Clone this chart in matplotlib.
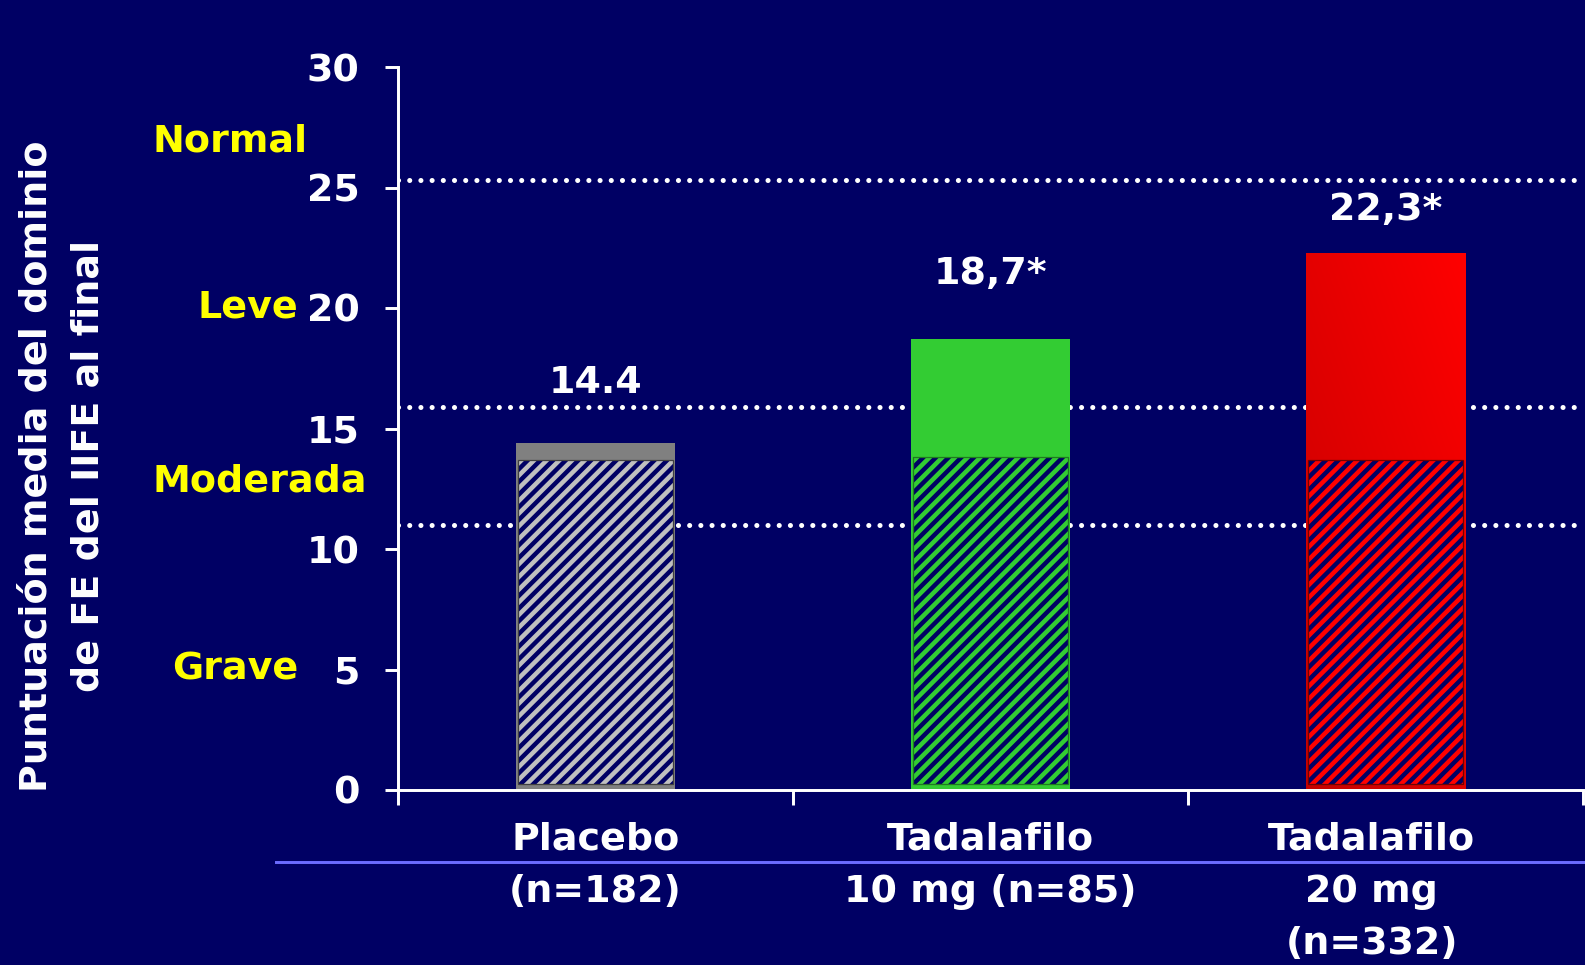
import matplotlib
matplotlib.use("Agg")
import matplotlib.pyplot as plt
import numpy as np
from matplotlib.colors import LinearSegmentedColormap
from matplotlib.lines import Line2D
from matplotlib.transforms import blended_transform_factory, offset_copy

# ---- data -------------------------------------------------------------
categories = ["Placebo\n(n=182)", "Tadalafilo\n10 mg (n=85)", "Tadalafilo\n20 mg\n(n=332)"]
scores = [14.4, 18.7, 22.3]            # mean IIEF-EF domain score at endpoint
baseline_scores = [13.7, 13.8, 13.7]   # hatched lower part of each bar
score_labels = ["14.4", "18,7*", "22,3*"]
severity_cutoffs = [25.3, 15.9, 11.0]
severity_names = ["Normal", "Leve", "Moderada", "Grave"]
severity_label_y = [26.9, 20.0, 12.8, 5.0]
y_ticks = [0, 5, 10, 15, 20, 25, 30]
y_title = ["Puntuación media del dominio", "de FE del IIFE al final"]

# ---- style ------------------------------------------------------------
W, H, DPI = 1585, 965, 152
BG = "#000064"
WHITE = "white"
YELLOW = "#FFFF00"
top_colors = ["#808080", "#33CC33", "#FF0000"]
hatch_fills = ["#C0C0C0", "#33CC33", "#FF0000"]
hatch_edges = ["#404040", "#1F7A1F", "#700000"]
label_offsets = [2.5, 2.7, 1.75]
FS = 18

plt.rcParams["font.family"] = ["DejaVu Sans"]
plt.rcParams["font.weight"] = "bold"
plt.rcParams["hatch.color"] = BG
plt.rcParams["hatch.linewidth"] = 2.1

fig = plt.figure(figsize=(W / DPI, H / DPI), dpi=DPI, facecolor=BG)
ax = fig.add_axes([398 / W, 1 - 790 / H, 1185 / W, 723 / H])
ax.set_facecolor(BG)

x = np.arange(len(categories))
bar_w = 0.405

# severity cut-off lines (dotted)
for c in severity_cutoffs:
    ax.axhline(c, color=WHITE, lw=2.4, linestyle=(0, (0.01, 2.2)),
               dash_capstyle="round", zorder=1)

# full bars
bars = ax.bar(x, scores, width=bar_w, color=top_colors, linewidth=0, zorder=2)

# red bar: diagonal shading from darker bottom-left to bright top-right
red = bars[2]
rx0, rw, rh = red.get_x(), red.get_width(), red.get_height()
u = np.linspace(0, 1, 200)
v = np.linspace(0, 1, 200)
U, V = np.meshgrid(u, v)
shade = (U * 0.45 + V * 0.55)
cmap = LinearSegmentedColormap.from_list("redshade", ["#C40000", "#FF0000"])
im = ax.imshow(shade, extent=(rx0, rx0 + rw, 0, rh), origin="lower",
               cmap=cmap, aspect="auto", zorder=2.5, interpolation="bilinear")
im.set_clip_path(red)

# hatched lower part
hb = 0.25
hatch_w = 0.39
ax.bar(x, [b - hb for b in baseline_scores], bottom=hb, width=hatch_w,
       color=hatch_fills, hatch="////", linewidth=0, zorder=3)
ax.bar(x, [b - hb for b in baseline_scores], bottom=hb, width=hatch_w,
       fill=False, edgecolor=hatch_edges, linewidth=0.6, zorder=4)

# value labels
for i, (s, lab, off) in enumerate(zip(scores, score_labels, label_offsets)):
    ax.text(i, s + off, lab, ha="center", va="center", color=WHITE,
            fontsize=FS, fontweight="bold", zorder=5)

# axes styling
ax.set_xlim(-0.5, 2.5)
ax.set_ylim(0, 30)
for side in ("top", "right"):
    ax.spines[side].set_visible(False)
for side in ("left", "bottom"):
    ax.spines[side].set_color(WHITE)
    ax.spines[side].set_linewidth(1.4)
ax.set_yticks(y_ticks)
ax.tick_params(axis="y", colors=WHITE, direction="out", length=6.2, width=1.4,
               pad=12, labelsize=FS)
for t in ax.get_yticklabels():
    t.set_fontweight("bold")
ax.set_xticks([-0.5, 0.5, 1.5, 2.5])
ax.set_xticklabels([])
ax.tick_params(axis="x", colors=WHITE, direction="out", length=7, width=1.4)

# category labels below the axis, one text per line
blend = blended_transform_factory(ax.transData, fig.transFigure)
cat_x = [0.0, 0.0, -0.035]
line_step_px = 52
for i, (cat, dx) in enumerate(zip(categories, cat_x)):
    for j, line in enumerate(cat.split("\n")):
        tr = offset_copy(blend, fig=fig, x=0, y=-j * line_step_px, units="dots")
        ax.text(i + dx, 1 - 840 / H, line, transform=tr, ha="center",
                va="center", color=WHITE, fontsize=FS, fontweight="bold",
                clip_on=False)

# severity labels on the left
sev_tr = blended_transform_factory(fig.transFigure, ax.transData)
sev_x = [152 / W, 298 / W, 152 / W, 298 / W]
sev_ha = ["left", "right", "left", "right"]
for name, yy, xx, ha in zip(severity_names, severity_label_y, sev_x, sev_ha):
    ax.text(xx, yy, name, transform=sev_tr, ha=ha, va="center", color=YELLOW,
            fontsize=FS, fontweight="bold", clip_on=False)

# y-axis title, two rotated lines
for k, line in enumerate(y_title):
    fig.text((37 + k * 52) / W, 1 - 466 / H, line, rotation=90, ha="center",
             va="center", color=WHITE, fontsize=FS, fontweight="bold")

# separator line under the first label row
fig.add_artist(Line2D([276 / W, 1.0], [1 - 862 / H, 1 - 862 / H],
                      transform=fig.transFigure, color="#6B6BFF", lw=1.4))

fig.savefig("out.png", dpi=DPI, facecolor=BG)
